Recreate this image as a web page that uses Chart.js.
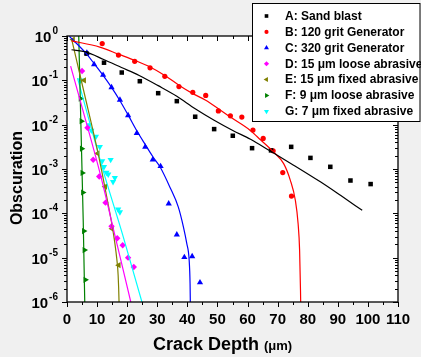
<!DOCTYPE html>
<html>
<head>
<meta charset="utf-8">
<script src="https://cdn.jsdelivr.net/npm/chart.js@4.4.1/dist/chart.umd.min.js"></script>
<style>
  body { margin: 0; background: #f0f0f0; }
  #wrap { width: 421px; height: 357px; }
</style>
</head>
<body>
<div id="wrap"><canvas id="chart" width="421" height="357"></canvas></div>
<script>
// series names (legend)
const seriesNames = [
  'A: Sand blast',
  'B: 120 grit Generator',
  'C: 320 grit Generator',
  'D: 15 \u03bcm loose abrasive',
  'E: 15 \u03bcm fixed abrasive',
  'F: 9 \u03bcm loose abrasive',
  'G: 7 \u03bcm fixed abrasive'
];
const seriesColors = ['#000000', '#ff0000', '#0000ff', '#ff00ff', '#808000', '#008000', '#00ffff'];

// tick labels
const xTicks = [0, 10, 20, 30, 40, 50, 60, 70, 80, 90, 100, 110];
const yTickExps = [0, -1, -2, -3, -4, -5, -6];

// A: Sand blast
const aX = [6.5, 12.3, 18.2, 24.2, 30.3, 36.5, 42.6, 48.9, 55.1, 61.5, 67.8, 74.5, 80.9, 87.5, 94.2, 100.9];
const aY = [0.40, 0.25, 0.15, 9.55e-2, 5.13e-2, 3.39e-2, 1.51e-2, 7.94e-3, 5.62e-3, 2.95e-3, 2.63e-3, 3.16e-3, 1.78e-3, 1.12e-3, 5.50e-4, 4.57e-4];
const aFitX = [1.5, 6.2, 12.2, 18.1, 24, 30.3, 36.5, 42.6, 48.9, 55.1, 61, 67.7, 74.5, 84.2, 91, 98.1];
const aFitY = [0.49, 0.437, 0.295, 0.195, 0.129, 7.59e-2, 4.37e-2, 2.29e-2, 1.26e-2, 7.41e-3, 4.68e-3, 2.51e-3, 1.32e-3, 5.13e-4, 2.51e-4, 1.17e-4];

// B: 120 grit Generator
const bX = [11.7, 17.1, 22.5, 27.6, 32.5, 37.2, 41.8, 46.1, 50.3, 54.3, 58.1, 61.8, 65.2, 68.5, 71.7, 74.6];
const bY = [0.676, 0.372, 0.269, 0.191, 0.123, 7.24e-2, 5.37e-2, 4.57e-2, 2.04e-2, 1.58e-2, 1.48e-2, 7.59e-3, 4.90e-3, 2.57e-3, 8.32e-4, 2.45e-4];
const bFitX = [1.5, 10.9, 17.1, 22.5, 27.6, 32.5, 37.2, 41.8, 46.1, 50.3, 54.3, 60.9, 64.3, 68.7, 72.0, 74.2, 75.9, 76.8, 77.3, 77.6, 77.7];
const bFitY = [0.776, 0.562, 0.389, 0.282, 0.200, 0.129, 7.76e-2, 5.01e-2, 3.55e-2, 2.29e-2, 1.48e-2, 7.41e-3, 4.57e-3, 2.40e-3, 1.32e-3, 5.62e-4, 1.95e-4, 5.89e-5, 1.48e-5, 1.82e-6, 6.3e-7];

// C: 320 grit Generator
const cX = [6.6, 9.0, 12.0, 14.8, 17.6, 20.3, 23.2, 26.0, 28.5, 31.1, 33.8, 36.5, 39.0, 41.6, 44.2];
const cY = [0.417, 0.229, 0.132, 6.92e-2, 3.63e-2, 1.62e-2, 6.46e-3, 3.16e-3, 1.62e-3, 1.15e-3, 1.66e-4, 3.31e-5, 1.02e-5, 1.07e-5, 2.75e-6];
const cFitX = [0.8, 6.7, 9.2, 12.0, 14.8, 17.6, 20.3, 23.3, 26.0, 28.5, 30.9, 34.2, 37.0, 38.7, 39.8, 40.6, 40.9, 41.0];
const cFitY = [0.98, 0.380, 0.229, 0.129, 6.92e-2, 3.47e-2, 1.66e-2, 7.08e-3, 3.55e-3, 1.91e-3, 1.12e-3, 3.89e-4, 1.38e-4, 4.90e-5, 2.09e-5, 8.71e-6, 2.57e-6, 7.9e-7];

// D: 15 um loose abrasive
const dX = [5.0, 6.8, 8.7, 10.7, 12.8, 14.8, 16.7, 18.5, 20.3, 22.2];
const dY = [0.162, 8.51e-3, 1.62e-3, 6.76e-4, 1.74e-4, 5.13e-5, 2.75e-5, 1.91e-5, 1.0e-5, 6.17e-6];
const dFitX = [1.2, 6.0, 11.0, 16.0, 21.2, 21.5];
const dFitY = [0.209, 1.41e-2, 7.94e-4, 3.02e-5, 1.0e-6, 8.1e-7];

// E: 15 um fixed abrasive
const eX = [2.0, 5.7, 10.2, 12.7, 15.0, 17.2];
const eY = [0.832, 0.1, 2.24e-3, 3.98e-4, 4.47e-5, 6.76e-6];
const eFitX = [1.5, 5.7, 9.8, 11.5, 13.4, 15.3, 16.5, 17.0, 17.3, 17.35];
const eFitY = [0.871, 5.25e-2, 3.31e-3, 9.33e-4, 2.0e-4, 3.98e-5, 1.0e-5, 3.98e-6, 1.0e-6, 6.3e-7];

// F: 9 um loose abrasive
const fX = [4.5, 4.8, 4.9, 5.1, 5.3, 5.6, 5.8, 6.1];
const fY = [3.89e-2, 1.20e-2, 2.88e-3, 8.13e-4, 2.95e-4, 3.98e-5, 1.48e-5, 3.16e-6];
const fFitX = [3.9, 4.8, 5.4, 5.9, 5.95];
const fFitY = [1.0, 3.16e-3, 6.31e-5, 1.0e-6, 6.3e-7];

// G: 7 um fixed abrasive
const gX = [4.6, 7.3, 8.1, 9.6, 10.9, 11.7, 12.3, 13.1, 13.7, 14.5, 15.3, 15.9, 17.0, 17.6];
const gY = [0.1, 9.77e-3, 7.41e-3, 5.37e-3, 3.16e-3, 1.51e-3, 1.12e-3, 8.32e-4, 7.59e-4, 1.62e-3, 5.13e-4, 6.31e-4, 1.23e-4, 1.07e-4];
const gFitX = [3.5, 12.0, 18.7, 24.9, 25.1];
const gFitY = [0.112, 9.33e-4, 2.95e-5, 1.0e-6, 9.0e-7];

const pts = (xs, ys) => xs.map((x, i) => ({ x: x, y: ys[i] }));

// marker styles per series
const markerStyles = [
  { pointStyle: 'rect', radius: 3.2, rotation: 0 },
  { pointStyle: 'circle', radius: 2.6, rotation: 0 },
  { pointStyle: 'triangle', radius: 3.6, rotation: 0 },
  { pointStyle: 'rectRot', radius: 3.2, rotation: 0 },
  { pointStyle: 'triangle', radius: 3.6, rotation: -90 },
  { pointStyle: 'triangle', radius: 3.6, rotation: 90 },
  { pointStyle: 'triangle', radius: 3.6, rotation: 180 }
];

const scatterData = [pts(aX, aY), pts(bX, bY), pts(cX, cY), pts(dX, dY), pts(eX, eY), pts(fX, fY), pts(gX, gY)];
const fitData = [pts(aFitX, aFitY), pts(bFitX, bFitY), pts(cFitX, cFitY), pts(dFitX, dFitY), pts(eFitX, eFitY), pts(fFitX, fFitY), pts(gFitX, gFitY)];

const datasets = [];
fitData.forEach((d, i) => {
  datasets.push({
    type: 'line',
    data: d,
    borderColor: seriesColors[i],
    borderWidth: 1.2,
    pointRadius: 0,
    fill: false,
    cubicInterpolationMode: 'monotone'
  });
});
scatterData.forEach((d, i) => {
  datasets.push({
    type: 'scatter',
    data: d,
    backgroundColor: seriesColors[i],
    borderColor: seriesColors[i],
    borderWidth: 0,
    pointStyle: markerStyles[i].pointStyle,
    pointRadius: markerStyles[i].radius,
    rotation: markerStyles[i].rotation
  });
});

// backgrounds
const bgPlugin = {
  id: 'bg',
  beforeDraw(chart) {
    const ctx = chart.ctx, a = chart.chartArea;
    ctx.save();
    ctx.fillStyle = '#f0f0f0';
    ctx.fillRect(0, 0, chart.width, chart.height);
    ctx.fillStyle = '#ffffff';
    ctx.fillRect(a.left, a.top, a.right - a.left, a.bottom - a.top);
    ctx.restore();
  }
};

// frame, ticks, axis labels
const axesPlugin = {
  id: 'axesDraw',
  afterDatasetsDraw(chart) {
    const ctx = chart.ctx, a = chart.chartArea;
    const xs = chart.scales.x, ys = chart.scales.y;
    ctx.save();
    ctx.strokeStyle = '#000';
    ctx.lineWidth = 1.3;
    ctx.strokeRect(a.left, a.top, a.right - a.left, a.bottom - a.top);

    ctx.lineWidth = 1;
    ctx.beginPath();
    // x ticks every 5
    for (let v = 0; v <= 110; v += 5) {
      const px = Math.round(xs.getPixelForValue(v)) + 0.5;
      const len = v % 10 === 0 ? 5 : 3;
      ctx.moveTo(px, a.bottom); ctx.lineTo(px, a.bottom + len);
      ctx.moveTo(px, a.top); ctx.lineTo(px, a.top + len);
    }
    // y ticks (log)
    for (let e = -6; e <= 0; e++) {
      for (let m = 1; m <= 9; m++) {
        const v = m * Math.pow(10, e);
        if (v > 1.0000001) break;
        const py = Math.round(ys.getPixelForValue(v)) + 0.5;
        const len = m === 1 ? 5 : 3;
        ctx.moveTo(a.left, py); ctx.lineTo(a.left - len, py);
        ctx.moveTo(a.right, py); ctx.lineTo(a.right - len, py);
      }
    }
    ctx.stroke();

    // x tick labels
    ctx.fillStyle = '#000';
    ctx.font = 'bold 15px "Liberation Sans", Arial, sans-serif';
    ctx.textAlign = 'center';
    ctx.textBaseline = 'alphabetic';
    xTicks.forEach(v => {
      ctx.fillText(String(v), xs.getPixelForValue(v), 324);
    });

    // y tick labels 10^n
    yTickExps.forEach(e => {
      const py = ys.getPixelForValue(Math.pow(10, e));
      const sup = String(e);
      ctx.font = 'bold 10px "Liberation Sans", Arial, sans-serif';
      const wSup = ctx.measureText(sup).width;
      ctx.font = 'bold 15px "Liberation Sans", Arial, sans-serif';
      const wBase = ctx.measureText('10').width;
      const right = 58;
      ctx.textAlign = 'left';
      ctx.fillText('10', right - wSup - wBase - 1, py + 6);
      ctx.font = 'bold 10px "Liberation Sans", Arial, sans-serif';
      ctx.fillText(sup, right - wSup, py - 2);
    });

    // axis titles
    ctx.font = 'bold 18px "Liberation Sans", Arial, sans-serif';
    ctx.textAlign = 'left';
    ctx.fillText('Crack Depth', 153, 350);
    const wT = ctx.measureText('Crack Depth ').width;
    ctx.font = 'bold 13px "Liberation Sans", Arial, sans-serif';
    ctx.fillText('(\u03bcm)', 153 + wT, 350);

    ctx.save();
    ctx.translate(22, 178);
    ctx.rotate(-Math.PI / 2);
    ctx.font = 'bold 16px "Liberation Sans", Arial, sans-serif';
    ctx.textAlign = 'center';
    ctx.fillText('Obscuration', 0, 0);
    ctx.restore();
    ctx.restore();
  }
};

// legend box
const legendPlugin = {
  id: 'legendBox',
  afterDraw(chart) {
    const ctx = chart.ctx;
    ctx.save();
    ctx.fillStyle = '#ffffff';
    ctx.fillRect(252, 3, 168, 119);
    ctx.strokeStyle = '#000';
    ctx.lineWidth = 1;
    ctx.strokeRect(252.5, 3.5, 167.5, 118);
    ctx.font = 'bold 12px "Liberation Sans", Arial, sans-serif';
    ctx.textAlign = 'left';
    ctx.textBaseline = 'middle';
    seriesNames.forEach((name, i) => {
      const y = 16 + i * 15.9;
      ctx.fillStyle = seriesColors[i];
      ctx.strokeStyle = seriesColors[i];
      Chart.helpers.drawPoint(ctx, {
        pointStyle: markerStyles[i].pointStyle,
        radius: markerStyles[i].radius * 0.8,
        rotation: markerStyles[i].rotation,
        borderWidth: 0
      }, 266.5, y);
      ctx.fillStyle = '#000';
      ctx.fillText(name, 285, y + 0.5);
    });
    ctx.restore();
  }
};

new Chart(document.getElementById('chart'), {
  data: { datasets: datasets },
  options: {
    responsive: false,
    animation: false,
    layout: { padding: { left: 67, top: 36, right: 23, bottom: 55 } },
    plugins: { legend: { display: false }, tooltip: { enabled: false } },
    scales: {
      x: { type: 'linear', min: 0, max: 110, display: false },
      y: { type: 'logarithmic', min: 1e-6, max: 1, display: false }
    }
  },
  plugins: [bgPlugin, axesPlugin, legendPlugin]
});
</script>
</body>
</html>
